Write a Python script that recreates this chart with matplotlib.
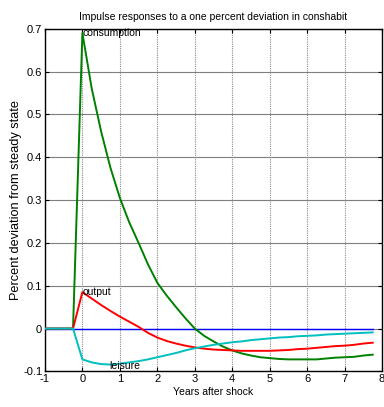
import matplotlib
matplotlib.use("Agg")
import matplotlib.pyplot as plt
import numpy as np
from matplotlib import font_manager

# ---- data ----
years = [-1.0, -0.75, -0.5, -0.25, 0.0, 0.25, 0.5, 0.75, 1.0, 1.25, 1.5, 1.75,
         2.0, 2.25, 2.5, 2.75, 3.0, 3.25, 3.5, 3.75, 4.0, 4.25, 4.5, 4.75,
         5.0, 5.25, 5.5, 5.75, 6.0, 6.25, 6.5, 6.75, 7.0, 7.25, 7.5, 7.75]

consumption = [0, 0, 0, 0, 0.69, 0.56, 0.46, 0.375, 0.305, 0.248, 0.200, 0.150,
               0.107, 0.077, 0.050, 0.024, 0.000, -0.017, -0.030, -0.042,
               -0.051, -0.058, -0.063, -0.067, -0.069, -0.071, -0.072, -0.072,
               -0.072, -0.072, -0.070, -0.068, -0.067, -0.066, -0.063, -0.061]

output = [0, 0, 0, 0, 0.085, 0.070, 0.055, 0.041, 0.028, 0.016, 0.004, -0.010,
          -0.021, -0.029, -0.035, -0.040, -0.044, -0.047, -0.049, -0.050,
          -0.051, -0.052, -0.052, -0.052, -0.052, -0.051, -0.050, -0.048,
          -0.047, -0.045, -0.043, -0.041, -0.040, -0.038, -0.035, -0.033]

leisure = [0, 0, 0, 0, -0.072, -0.079, -0.083, -0.084, -0.082, -0.079, -0.076, -0.072,
           -0.067, -0.062, -0.057, -0.051, -0.046, -0.042, -0.038, -0.035,
           -0.032, -0.030, -0.027, -0.025, -0.023, -0.021, -0.020, -0.018,
           -0.017, -0.016, -0.014, -0.013, -0.012, -0.011, -0.010, -0.009]

xticks = [-1, 0, 1, 2, 3, 4, 5, 6, 7, 8]
yticks = [-0.1, 0, 0.1, 0.2, 0.3, 0.4, 0.5, 0.6, 0.7]
ytick_labels = ["-0.1", "0", "0.1", "0.2", "0.3", "0.4", "0.5", "0.6", "0.7"]

title = "Impulse responses to a one percent deviation in conshabit"
xlabel = "Years after shock"
ylabel = "Percent deviation from steady state"

# ---- font ----
names = {f.name for f in font_manager.fontManager.ttflist}
fam = "Liberation Sans Narrow" if "Liberation Sans Narrow" in names else "Liberation Sans"
plt.rcParams["font.family"] = [fam, "DejaVu Sans"]

fig = plt.figure(figsize=(3.84, 4.07), dpi=100)
ax = fig.add_axes([0.117, 0.0875, 0.878, 0.842])

ax.set_xlim(-1, 8)
ax.set_ylim(-0.1, 0.7)

# grid
for yt in yticks:
    ax.axhline(yt, color="#7f7f7f", lw=0.8, zorder=0.5)
for xt in xticks:
    ax.axvline(xt, color="#8a8a8a", lw=0.8, ls=(0, (1, 1)), zorder=0.5)

ax.plot([years[0], years[-1]], [0, 0], color="#0000ff", lw=1.0, zorder=2)
ax.plot(years, consumption, color="#008000", lw=1.4, zorder=3)
ax.plot(years, output, color="#ff0000", lw=1.4, zorder=4)
ax.plot(years, leisure, color="#00bfbf", lw=1.4, zorder=5)

ax.text(0.0, consumption[4], "consumption", fontsize=7.5, va="center", ha="left", zorder=6)
ax.text(0.0, output[4], "output", fontsize=7.5, va="center", ha="left", zorder=6)
ax.text(0.73, min(leisure) - 0.003, "leisure", fontsize=7.5, va="center", ha="left", zorder=6)

ax.set_xticks(xticks)
ax.set_xticklabels([str(t) for t in xticks])
ax.set_yticks(yticks)
ax.set_yticklabels(ytick_labels)
ax.tick_params(direction="in", length=3, width=0.8, labelsize=8, pad=2,
               top=True, right=True)
for s in ax.spines.values():
    s.set_linewidth(1.0)
    s.set_color("black")

ax.set_title(title, fontsize=7.5, pad=6)
ax.set_xlabel(xlabel, fontsize=7.5, labelpad=2)
ax.set_ylabel(ylabel, fontsize=9.2, family=["Liberation Sans", "DejaVu Sans"])
ax.yaxis.set_label_coords(-0.085, 0.5 + (200 - 200) / 342)
ax.yaxis.label.set_va("center")

fig.savefig("out.png", dpi=100)
